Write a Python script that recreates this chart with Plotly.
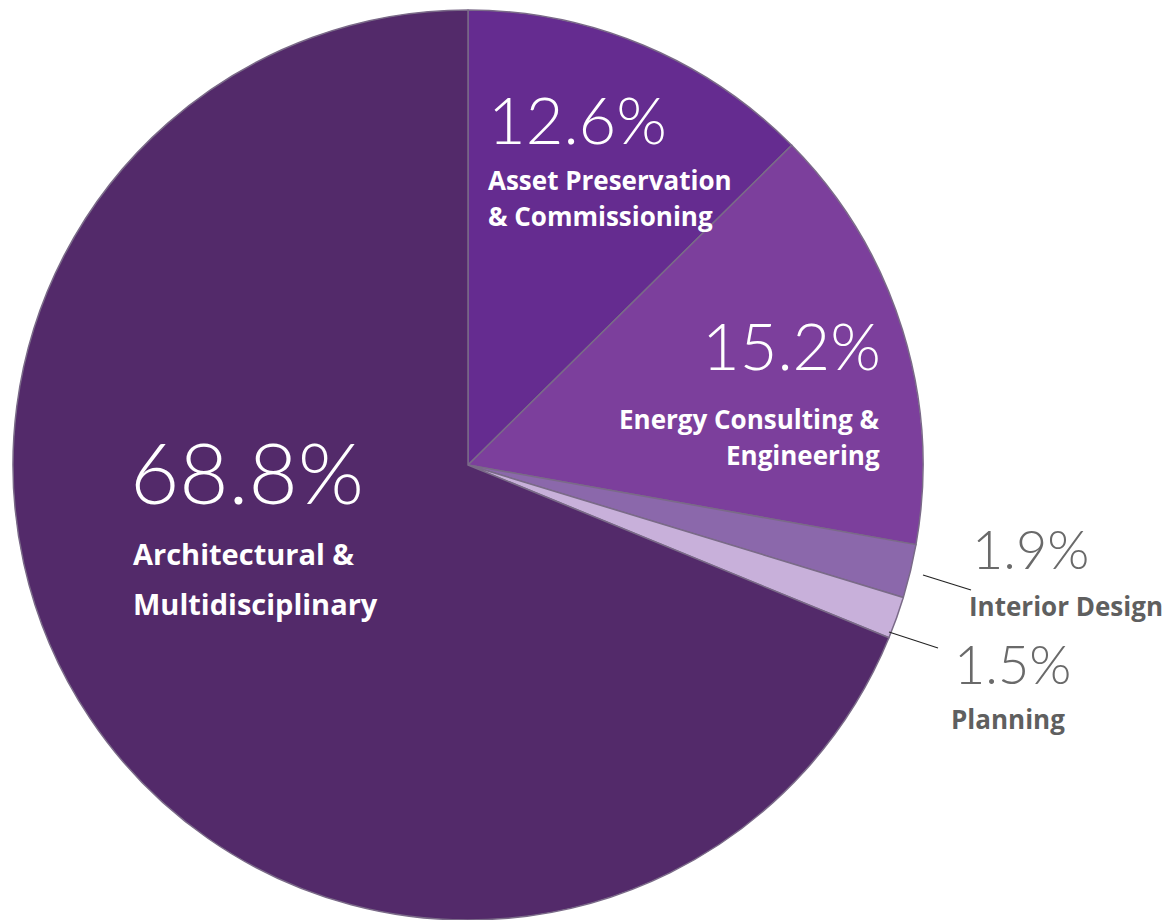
import plotly.graph_objects as go

categories = ["Asset Preservation & Commissioning", "Energy Consulting & Engineering",
              "Interior Design", "Planning", "Architectural & Multidisciplinary"]
values = [12.6, 15.2, 1.9, 1.5, 68.8]
pct_labels = ["12.6%", "15.2%", "1.9%", "1.5%", "68.8%"]
colors = ["#652c90", "#7c3f9c", "#8b68ab", "#c8b0da", "#532a6a"]

W, H = 1170, 920
OFF = 8  # page offset of the figure in the window

def px(x):
    return (x - OFF) / W

def py(y):
    return 1 - (y - OFF) / H

fig = go.Figure(go.Pie(
    labels=categories, values=values, sort=False, direction="clockwise", rotation=0,
    marker=dict(colors=colors, line=dict(color="#7a6a88", width=1.5)),
    textinfo="none", hoverinfo="label+percent", showlegend=False,
    domain=dict(x=[px(13), px(923)], y=[py(920), py(10)]),
))

light = dict(family="Lato", weight=300)
bold = dict(family="Open Sans", weight=700)

ann = []
def add(text, x, y, size, color, fam, xanchor="left"):
    ann.append(dict(text=text, x=px(x), y=py(y), xref="paper", yref="paper",
                    showarrow=False, xanchor=xanchor, yanchor="middle",
                    font=dict(size=size, color=color, **fam)))

white = "#ffffff"
grey = "#5f5f5f"
grey_light = "#6a6a6a"

add(pct_labels[4], 128, 471, 85, white, light)
add("Architectural &", 131, 553, 29, white, bold)
add("Multidisciplinary", 131, 603, 29, white, bold)

add(pct_labels[0], 486, 119, 65, white, light)
add("Asset Preservation", 486, 180, 26, white, bold)
add("& Commissioning", 486, 216, 26, white, bold)

add(pct_labels[1], 883, 345, 65, white, light, "right")
add("Energy Consulting &", 882, 419, 26, white, bold, "right")
add("Engineering", 882, 455, 26, white, bold, "right")

add(pct_labels[2], 970, 548, 54, grey_light, light)
add(categories[2], 967, 606, 26, grey, bold)
add(pct_labels[3], 952, 663, 54, grey_light, light)
add(categories[3], 949, 719, 26, grey, bold)

shapes = [
    dict(type="line", xref="paper", yref="paper", x0=px(923), y0=py(575), x1=px(971), y1=py(590),
         line=dict(color="#222222", width=1.2)),
    dict(type="line", xref="paper", yref="paper", x0=px(889), y0=py(632), x1=px(938), y1=py(648),
         line=dict(color="#222222", width=1.2)),
]

fig.update_layout(width=W, height=H, margin=dict(l=0, r=0, t=0, b=0),
                  paper_bgcolor="white", plot_bgcolor="white",
                  annotations=ann, shapes=shapes)

fig.write_html("out.html")
